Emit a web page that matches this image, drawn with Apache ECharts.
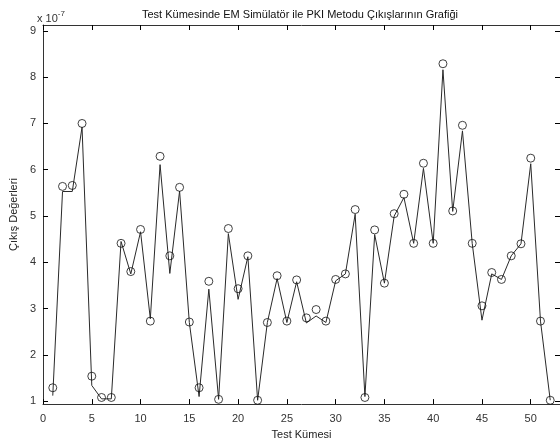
<!DOCTYPE html>
<html>
<head>
<meta charset="utf-8">
<script src="https://cdn.jsdelivr.net/npm/echarts@6/dist/echarts.min.js"></script>
<style>html,body{margin:0;padding:0;background:#fff}#c{width:560px;height:445px}</style>
</head>
<body>
<div id="c"></div>
<script>
// Test set index (x axis)
var testIndex = [1,2,3,4,5,6,7,8,9,10,11,12,13,14,15,16,17,18,19,20,21,22,23,24,25,26,
                 27,28,29,30,31,32,33,34,35,36,37,38,39,40,41,42,43,44,45,46,47,48,49,50,51,52];
// EM simulator outputs (circles), in units of 1e-7
var emValues = [1.29,5.64,5.66,7.00,1.54,1.08,1.08,4.41,3.80,4.71,2.73,6.29,4.14,5.62,2.71,1.29,
                3.59,1.04,4.73,3.43,4.14,1.02,2.70,3.71,2.73,3.62,2.80,2.98,2.73,3.63,3.75,5.14,
                1.08,4.70,3.55,5.05,5.47,4.41,6.14,4.41,8.29,5.11,6.96,4.41,3.06,3.78,3.63,4.14,
                4.40,6.25,2.73,1.02];
// PKI method outputs (line), in units of 1e-7
var pkiValues = [1.12,5.53,5.53,6.92,1.34,1.05,1.05,4.45,3.75,4.66,2.78,6.11,3.76,5.54,2.70,1.10,
                 3.42,1.04,4.62,3.20,4.12,1.02,2.70,3.65,2.70,3.58,2.69,2.84,2.70,3.60,3.75,5.04,
                 1.10,4.60,3.55,5.00,5.40,4.41,6.03,4.41,8.16,5.10,6.84,4.41,2.75,3.75,3.63,4.14,
                 4.40,6.13,2.73,1.02];
var xTicks = [0,5,10,15,20,25,30,35,40,45,50];
var yTicks = [1,2,3,4,5,6,7,8,9];

var titleText = 'Test Kümesinde EM Simülatör ile PKI Metodu Çıkışlarının Grafiği';
var xName = 'Test Kümesi';
var yName = 'Çıkış Değerleri';

var FONT = 'Liberation Sans, Arial, sans-serif';
var AX = '#333';

function pairs(vals){ return testIndex.map(function(x,i){ return [x, vals[i]]; }); }

var chart = echarts.init(document.getElementById('c'), null, {renderer:'canvas'});
var xBase = {
  type:'value', min:0, max:53,
  axisLine:{show:true, onZero:false, lineStyle:{color:AX, width:1}},
  axisTick:{show:true, inside:true, length:5, customValues:xTicks, lineStyle:{color:'#000'}},
  splitLine:{show:false}
};
var yBase = {
  type:'value', min:0.937, max:9.127,
  axisLine:{show:true, onZero:false, lineStyle:{color:AX, width:1}},
  axisTick:{show:true, inside:true, length:5, customValues:yTicks, lineStyle:{color:'#000'}},
  splitLine:{show:false}
};
var option = {
  animation:false,
  backgroundColor:'#fff',
  title:{text:titleText, left:295, top:4, textAlign:'center',
         textStyle:{fontFamily:FONT, fontSize:11, fontWeight:'normal', color:'#111'}},
  grid:{left:37, right:-2, top:25, bottom:32, containLabel:false},
  xAxis:[
    Object.assign({}, xBase, {position:'bottom',
      name:xName, nameLocation:'middle', nameGap:20,
      nameTextStyle:{fontFamily:FONT, fontSize:11, color:'#222'},
      axisLabel:{show:true, customValues:xTicks, margin:9, fontFamily:FONT, fontSize:11, color:'#333'}}),
    Object.assign({}, xBase, {position:'top', axisLabel:{show:false}})
  ],
  yAxis:[
    Object.assign({}, yBase, {position:'left',
      name:yName, nameLocation:'middle', nameGap:21, nameRotate:90,
      nameTextStyle:{fontFamily:FONT, fontSize:11, color:'#222'},
      axisLabel:{show:true, customValues:yTicks, margin:7, fontFamily:FONT, fontSize:11, color:'#333'}}),
    Object.assign({}, yBase, {position:'right', axisLabel:{show:false}})
  ],
  graphic:[{
    type:'text', left:37, top:10,
    style:{text:'{a|x 10}{b|-7}', font:'11px ' + FONT,
      rich:{a:{fontFamily:FONT, fontSize:11, fill:'#333', verticalAlign:'bottom'},
            b:{fontFamily:FONT, fontSize:8, fill:'#333', verticalAlign:'top', padding:[0,0,6,0]}}}
  }],
  series:[
    {type:'line', data:pairs(pkiValues), xAxisIndex:0, yAxisIndex:0,
     showSymbol:false, symbol:'none', lineStyle:{color:'#2a2a2a', width:1}, z:2, silent:true},
    {type:'scatter', data:pairs(emValues), xAxisIndex:0, yAxisIndex:0,
     symbol:'circle', symbolSize:8,
     itemStyle:{color:'rgba(0,0,0,0)', borderColor:'#111', borderWidth:1}, z:3, silent:true}
  ]
};
chart.setOption(option);
</script>
</body>
</html>
